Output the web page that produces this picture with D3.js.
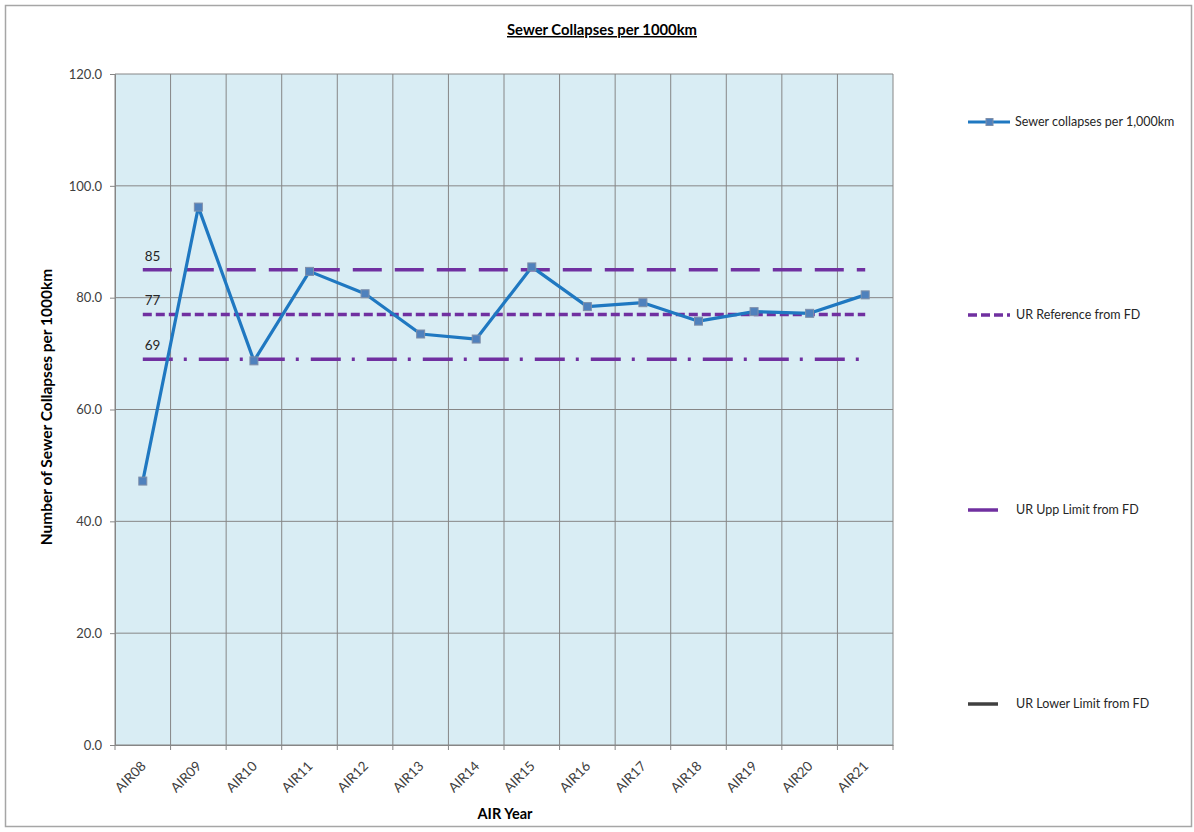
<!DOCTYPE html>
<html><head><meta charset="utf-8">
<script src="https://cdn.jsdelivr.net/npm/d3@7"></script>
<style>body{margin:0;background:#fff;font-family:Lato,"Open Sans",sans-serif;}</style>
</head><body>
<svg id="c" width="1194" height="832"></svg>
<script>
const categories = ["AIR08","AIR09","AIR10","AIR11","AIR12","AIR13","AIR14","AIR15","AIR16","AIR17","AIR18","AIR19","AIR20","AIR21"];
const collapses = [47.2,96.2,68.7,84.7,80.7,73.5,72.6,85.5,78.4,79.1,75.8,77.5,77.2,80.5];
const refUpper = 85;
const refMid = 77;
const refLower = 69;
const yTicks = [0,20,40,60,80,100,120];
const legendLabels = ["Sewer collapses per 1,000km","UR Reference from FD","UR Upp Limit from FD","UR Lower Limit from FD"];

const svg = d3.select("#c");
const L = 115, R = 893, T = 74, B = 745;
svg.append("rect").attr("x",5.5).attr("y",5.5).attr("width",1186).attr("height",821)
  .attr("fill","#fff").attr("stroke","#a6a6a6").attr("stroke-width",1.5);

const x = d3.scaleBand().domain(categories).range([L,R]);
const y = d3.scaleLinear().domain([0,120]).range([B,T]);

svg.append("rect").attr("x",L).attr("y",T).attr("width",R-L).attr("height",B-T).attr("fill","#d9edf4");

// horizontal grid
svg.append("g").selectAll("line").data(yTicks).join("line")
  .attr("x1",L).attr("x2",R).attr("y1",d=>y(d)).attr("y2",d=>y(d))
  .attr("stroke","#868686").attr("stroke-width",1);
// vertical grid
const edges = categories.map(c=>x(c)).concat([R]);
svg.append("g").selectAll("line").data(edges).join("line")
  .attr("x1",d=>d).attr("x2",d=>d).attr("y1",T).attr("y2",B+5)
  .attr("stroke","#868686").attr("stroke-width",1);

// y axis
const yAxis = d3.axisLeft(y).tickValues(yTicks).tickFormat(d3.format(".1f")).tickSize(5).tickPadding(8);
const gy = svg.append("g").attr("transform",`translate(${L},0)`).call(yAxis);
gy.select(".domain").attr("stroke","#868686");
gy.selectAll(".tick line").attr("stroke","#868686");
gy.selectAll("text").attr("font-size",13).attr("fill","#404040").attr("font-family","Lato, sans-serif");

// x axis labels
const gx = svg.append("g").attr("transform",`translate(0,${B})`).call(d3.axisBottom(x).tickSize(0).tickPadding(0));
gx.select(".domain").attr("stroke","#868686");
gx.selectAll("text").attr("font-size",13.5).attr("fill","#404040").attr("font-family","Lato, sans-serif")
  .attr("text-anchor","end").attr("dy",0)
  .attr("transform","translate(4,22) rotate(-45)");

// reference lines
const x0 = x(categories[0])+x.bandwidth()/2, x1 = x(categories[categories.length-1])+x.bandwidth()/2;
const refs = [
  {v:refUpper, dash:"29,13"},
  {v:refMid, dash:"9,4"},
  {v:refLower, dash:"30,11,3,12"}
];
svg.append("g").selectAll("line").data(refs).join("line")
  .attr("x1",x0).attr("x2",x1).attr("y1",d=>y(d.v)).attr("y2",d=>y(d.v))
  .attr("stroke","#7030a0").attr("stroke-width",3.5).attr("stroke-dasharray",d=>d.dash);
svg.append("g").selectAll("text").data(refs).join("text")
  .attr("x",x0+2).attr("y",d=>y(d.v)-9).text(d=>d.v)
  .attr("font-size",13.5).attr("fill","#262626");

// series
const line = d3.line().x((d,i)=>x(categories[i])+x.bandwidth()/2).y(d=>y(d));
svg.append("path").datum(collapses).attr("d",line).attr("fill","none")
  .attr("stroke","#1f78c1").attr("stroke-width",3.2).attr("stroke-linejoin","round");
svg.append("g").selectAll("rect").data(collapses).join("rect")
  .attr("x",(d,i)=>x(categories[i])+x.bandwidth()/2-4).attr("y",d=>y(d)-4)
  .attr("width",8).attr("height",8).attr("fill","#4f81bd").attr("stroke","#7f8fa9").attr("stroke-width",1);

// title
svg.append("text").attr("x",602).attr("y",35).attr("text-anchor","middle")
  .attr("font-size",14.8).attr("font-weight","bold").attr("fill","#000")
  .attr("text-decoration","underline").text("Sewer Collapses per 1000km");
// axis titles
svg.append("text").attr("transform","translate(52,407) rotate(-90)").attr("text-anchor","middle")
  .attr("font-size",15.5).attr("font-weight","bold").attr("fill","#000").text("Number of Sewer Collapses per 1000km");
svg.append("text").attr("x",505).attr("y",819).attr("text-anchor","middle")
  .attr("font-size",14.5).attr("font-weight","bold").attr("fill","#000").text("AIR Year");

// legend
const lg = svg.append("g").attr("font-size",12.5).attr("fill","#262626");
const ly = [122,315,510,704];
lg.append("line").attr("x1",968).attr("x2",1010).attr("y1",ly[0]).attr("y2",ly[0]).attr("stroke","#1f78c1").attr("stroke-width",3.2);
lg.append("rect").attr("x",986).attr("y",ly[0]-3.5).attr("width",7).attr("height",7).attr("fill","#4f81bd").attr("stroke","#7f8fa9");
lg.append("line").attr("x1",968).attr("x2",1010).attr("y1",ly[1]).attr("y2",ly[1]).attr("stroke","#7030a0").attr("stroke-width",3.5).attr("stroke-dasharray","9,4");
lg.append("line").attr("x1",968).attr("x2",998).attr("y1",ly[2]).attr("y2",ly[2]).attr("stroke","#7030a0").attr("stroke-width",3.5);
lg.append("line").attr("x1",968).attr("x2",998).attr("y1",ly[3]).attr("y2",ly[3]).attr("stroke","#404040").attr("stroke-width",3.5);
const lx = [1015,1016,1016,1016];
lg.selectAll("text").data(legendLabels).join("text")
  .attr("x",(d,i)=>lx[i]).attr("y",(d,i)=>ly[i]+4).text(d=>d);
</script>
</body></html>
